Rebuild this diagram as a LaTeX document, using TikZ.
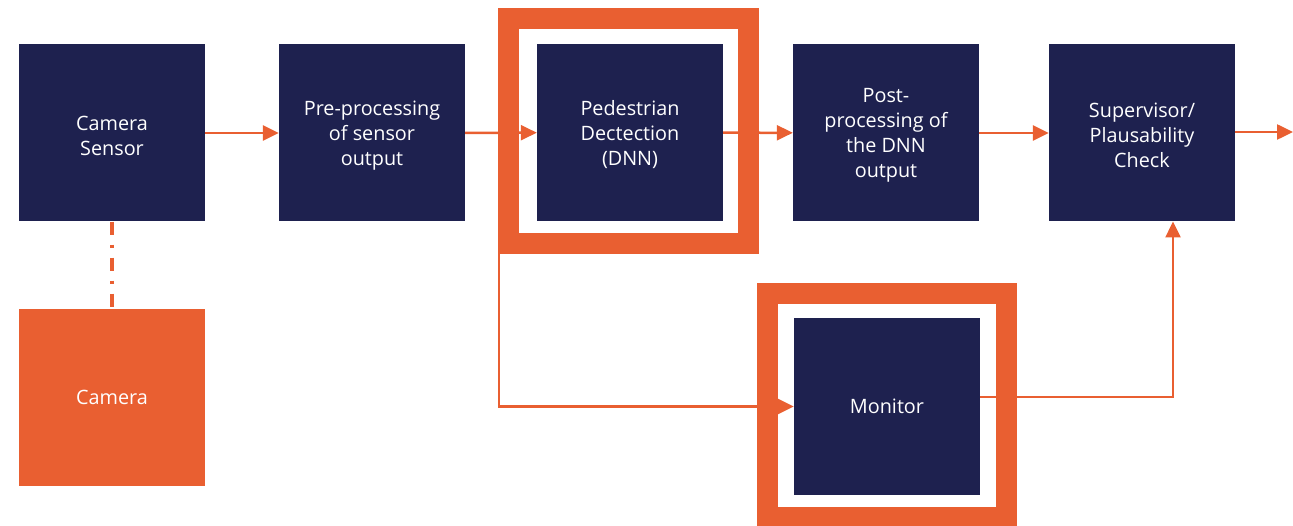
\documentclass[tikz,border=0pt]{standalone}
\usepackage{fontspec}
\setmainfont{Open Sans}
\usetikzlibrary{arrows.meta}
\definecolor{navy}{HTML}{1E214F}
\definecolor{orng}{HTML}{E95F31}
\begin{document}
\begin{tikzpicture}[x=1pt,y=-1pt,
  blk/.style={fill=navy, draw=none, minimum width=186pt, minimum height=177pt, inner sep=0pt},
  txt/.style={text=white, align=center, font=\fontsize{19.8}{25}\selectfont, yshift=-2.5pt, inner sep=0pt},
  txtone/.style={txt, yshift=2.5pt},
  camblk/.style={blk, fill=orng},
  frm/.style={draw=orng, line width=21pt, fill=none, inner sep=0pt},
  conn/.style={draw=orng, line width=2.5pt, -{Triangle[length=16pt,width=15pt]}},
  dashdot/.style={draw=orng, line width=3.5pt, dash pattern=on 13pt off 10pt on 3pt off 10pt}
]
\useasboundingbox (0,0) rectangle (1293,526);
% frames
\node[frm, minimum width=240pt, minimum height=224.5pt] (pedfrm) at (628.5,131.25) {};
\node[frm, minimum width=239pt, minimum height=224pt] (monfrm) at (887,405.5) {};
% boxes
\node[blk, label={[txt]center:Camera\\Sensor}] (cs) at (112,133) {};
\node[blk, label={[txt]center:Pre-processing\\of sensor\\output}] (pre) at (372,133) {};
\node[blk, label={[txt]center:Pedestrian\\Dectection\\(DNN)}] (ped) at (630,132.5) {};
\node[blk, label={[txt]center:Post-\\processing of\\the DNN\\output}] (post) at (886,133) {};
\node[blk, label={[txt]center:Supervisor/\\Plausability\\Check}] (sup) at (1142,133) {};
\node[blk, label={[txtone]center:Monitor}] (mon) at (887,406.5) {};
\node[camblk, label={[txtone]center:Camera}] (cam) at (112,397.5) {};
% connectors
\coordinate (br) at (499,133);
\coordinate (out) at (1293,132);
\coordinate (monout) at (980,397);
\coordinate (supin) at (1173,221.5);
\draw[conn] (cs) -- (pre);
\draw[conn] (pre) -- (ped);
\draw[conn] (ped) -- (post);
\draw[conn] (post) -- (sup);
\draw[conn] (sup.east |- out) -- (out);
\draw[conn] (br) |- (mon.west);
\draw[conn] (monout) -| (supin);
\draw[dashdot] (cs.south) -- (cam.north);
\end{tikzpicture}
\end{document}
